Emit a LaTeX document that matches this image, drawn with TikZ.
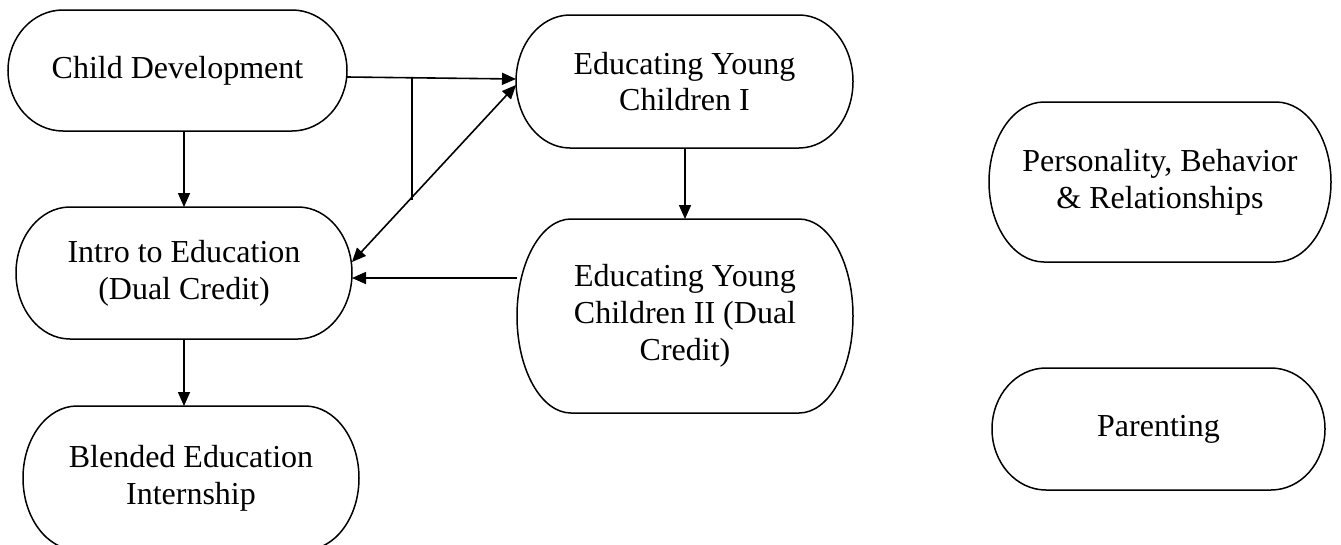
\documentclass[tikz,border=0pt]{standalone}
\usepackage{fontspec}
\setmainfont{Liberation Serif}
\usetikzlibrary{arrows.meta,calc}

\tikzset{
  course/.style={align=center, inner sep=0pt, outer sep=0pt,
    font=\fontsize{32}{36.8}\selectfont},
  outline/.style={draw=black, line width=1.5pt},
  arr/.style={line width=1.6pt, -{Triangle[length=14pt,width=12pt]}},
  biarr/.style={line width=1.6pt, {Triangle[length=14pt,width=12pt]}-{Triangle[length=14pt,width=12pt]}},
  link/.style={line width=1.6pt}
}

% terminator outline: straight top and bottom, half-ellipse ends
% #1 node name, #2 horizontal radius, #3 vertical radius (half height)
\newcommand{\termbox}[3]{%
  \draw[outline] ($(#1.north west)+(#2,0pt)$) -- ($(#1.north east)+(-#2,0pt)$)
    arc[start angle=90, end angle=-90, x radius=#2, y radius=#3]
    -- ($(#1.south west)+(#2,0pt)$)
    arc[start angle=270, end angle=90, x radius=#2, y radius=#3] -- cycle;}

\begin{document}
\begin{tikzpicture}[x=1pt,y=-1pt]
\useasboundingbox (0,0) rectangle (1341,544);

% courses
\node[course, minimum width=339pt, minimum height=121pt] (cd) at (177.5,70.5) {Child Development};
\node[course, minimum width=337pt, minimum height=133pt] (eyc1) at (684.5,81.5) {Educating Young\\Children I};
\node[course, minimum width=336pt, minimum height=132pt] (intro) at (184,273) {Intro to Education\\(Dual Credit)};
\node[course, minimum width=336pt, minimum height=194pt] (eyc2) at (685,316) {Educating Young\\Children II (Dual\\Credit)};
\node[course, minimum width=336pt, minimum height=144pt] (blend) at (191,478) {Blended Education\\Internship};
\node[course, minimum width=342pt, minimum height=160pt] (pers) at (1160,182) {Personality, Behavior\\\& Relationships};
\node[course, minimum width=333pt, minimum height=122pt] (par) at (1158.5,429) {Parenting};

\termbox{cd}{55pt}{60.5pt}
\termbox{eyc1}{54pt}{66.5pt}
\termbox{intro}{54pt}{66pt}
\termbox{eyc2}{54pt}{97pt}
\termbox{blend}{54pt}{72pt}
\termbox{pers}{55pt}{80pt}
\termbox{par}{54pt}{61pt}

% prerequisite arrows
\draw[arr] ([yshift=-6.5pt]cd.east) -- ([yshift=2.5pt]eyc1.west);
\draw[biarr] ([yshift=-3.5pt]eyc1.west) -- ([yshift=11pt]intro.east);
\coordinate (j1) at (412,77.3);
\coordinate (j2) at (412,200);
\draw[link] (j1) -- (j2);
\draw[arr] (cd.south -| intro.north) -- (intro.north);
\draw[arr] (eyc1.south -| eyc2.north) -- (eyc2.north);
\draw[arr] ([yshift=38pt]eyc2.west) -- ([yshift=-5pt]intro.east);
\draw[arr] (intro.south) -- (intro.south |- blend.north);
\end{tikzpicture}
\end{document}
